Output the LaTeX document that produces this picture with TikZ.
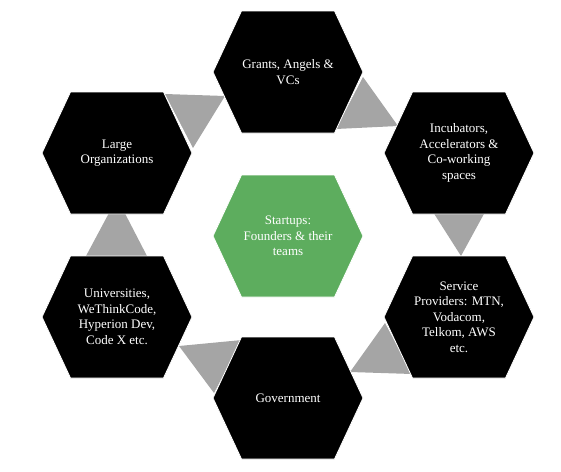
\documentclass[tikz,border=0pt]{standalone}
\usepackage{fontspec}
\setmainfont{Liberation Serif}
\usepackage{xcolor}
\definecolor{hexBack}   {HTML}{000000}
\definecolor{startBack} {HTML}{5DAD5E}
\definecolor{arrowGray} {HTML}{A5A5A5}

\begin{document}
\begin{tikzpicture}[x=1pt, y=-1pt,
    every node/.style={font=\fontsize{13}{15.5}\selectfont, text=white,
                       align=center, inner sep=0pt},
    hexa/.style={draw=white, line width=0.8pt},
    tri/.style={fill=arrowGray}
]
\useasboundingbox (0,0) rectangle (561,471);
% Triangles between the hexagons
\path[tri] (165,94) -- (225,96) -- (193,148) -- cycle;
\path[tri] (363,77) -- (336,129) -- (398,126) -- cycle;
\path[tri] (433,212) -- (485,212) -- (461,256) -- cycle;
\path[tri] (385,323) -- (350,372) -- (412,374) -- cycle;
\path[tri] (179,346) -- (242,340) -- (214,393) -- cycle;
\path[tri] (117,198) -- (86,256) -- (147,256) -- cycle;
% Outer ring of hexagons
\foreach \n/\x/\y/\t in {grants/288/72/{Grants, Angels \&\\VCs},
    incub/459/153/{Incubators,\\Accelerators \&\\Co-working\\spaces},
    service/459/317/{Service\\Providers: MTN,\\Vodacom,\\Telkom, AWS\\etc.},
    gov/288/398/{Government},
    univ/117/317/{Universities,\\WeThinkCode,\\Hyperion Dev,\\Code X etc.},
    large/117/153/{Large\\Organizations}} {
    \filldraw[hexa, fill=hexBack] (\x-75,\y) -- (\x-46.5,\y-61) -- (\x+46.5,\y-61)
        -- (\x+75,\y) -- (\x+46.5,\y+61) -- (\x-46.5,\y+61) -- cycle;
    \node (\n) at (\x,\y) {\t};
}
% Centre hexagon
\filldraw[hexa, fill=startBack] (213,236) -- (241.5,175) -- (334.5,175)
    -- (363,236) -- (334.5,297) -- (241.5,297) -- cycle;
\node (startups) at (288,236) {Startups:\\Founders \& their\\teams};
\end{tikzpicture}
\end{document}
